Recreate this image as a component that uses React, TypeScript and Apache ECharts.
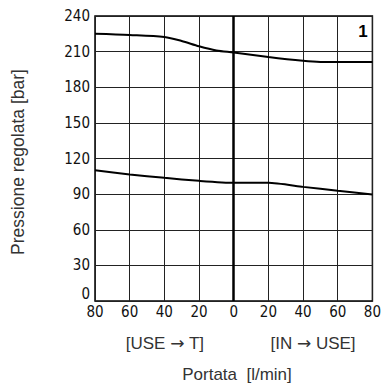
import React, { useEffect, useRef } from "react";
import * as echarts from "echarts";

const xTicks = [-80, -60, -40, -20, 0, 20, 40, 60, 80];
const yTicks = [0, 30, 60, 90, 120, 150, 180, 210, 240];
const upperX = [-80, -60, -40, -30, -20, -10, 0, 20, 40, 50, 60, 80];
const upperY = [225, 224, 222.3, 219, 214.5, 211, 209.3, 205.5, 202.3, 201.3, 201.2, 201.2];
const lowerX = [-80, -60, -40, -20, 0, 20, 40, 60, 80];
const lowerY = [110.2, 106.6, 103.7, 101.2, 99.5, 99.5, 96.1, 92.8, 89.7];
const sideLabels = [["[USE ", " T]"], ["[IN ", " USE]"]];
const arrow = "\u2192";
const xTitle = "Portata  [l/min]";
const yTitle = "Pressione regolata [bar]";
const curveLabel = "1";

const tickFont = "'DejaVu Sans Condensed', 'Liberation Sans Narrow', 'DejaVu Sans', sans-serif";
const textFont = "'Liberation Sans', Arial, sans-serif";

export default function App() {
  const ref = useRef<HTMLDivElement>(null);
  useEffect(() => {
    if (!ref.current) return;
    const chart = echarts.init(ref.current, undefined, { renderer: "svg" });
    const pair = (xs: number[], ys: number[]) => xs.map((x, i) => [x, ys[i]]);
    const sideText = (parts: string[], x: number) => ({
      type: "text",
      x,
      y: 343,
      style: {
        text: `{t|${parts[0]}}{a|${arrow}}{t|${parts[1]}}`,
        align: "center",
        verticalAlign: "middle",
        rich: {
          t: { fontSize: 17, fontFamily: textFont, fill: "#333", color: "#333" },
          a: { fontSize: 17, fontFamily: "'DejaVu Sans', sans-serif", fill: "#333", color: "#333" },
        },
      },
    });
    chart.setOption({
      animation: false,
      grid: {
        left: 95,
        right: 5,
        top: 16,
        bottom: 84,
        show: true,
        borderColor: "#000",
        borderWidth: 1.5,
      },
      xAxis: {
        type: "value",
        min: xTicks[0],
        max: xTicks[xTicks.length - 1],
        interval: 20,
        axisLine: { show: false },
        axisTick: { show: false },
        axisLabel: {
          margin: 3,
          fontSize: 15,
          fontFamily: tickFont,
          color: "#111",
          formatter: (v: number) => String(Math.abs(v)),
        },
        splitLine: { show: true, lineStyle: { color: "#222", width: 1 } },
      },
      yAxis: {
        type: "value",
        min: yTicks[0],
        max: yTicks[yTicks.length - 1],
        interval: 30,
        axisLine: { show: false },
        axisTick: { show: false },
        axisLabel: {
          margin: 5,
          fontSize: 15,
          fontFamily: tickFont,
          color: "#111",
          formatter: (v: number) => (v === 0 ? "{z|0}" : String(v)),
          rich: {
            z: { fontSize: 15, fontFamily: tickFont, color: "#111", padding: [0, 0, 14, 0] },
          },
        },
        splitLine: { show: true, lineStyle: { color: "#222", width: 1 } },
      },
      series: [
        {
          type: "line",
          data: pair(upperX, upperY),
          smooth: 0.3,
          symbol: "none",
          lineStyle: { color: "#000", width: 2 },
          markLine: {
            silent: true,
            symbol: "none",
            label: { show: false },
            lineStyle: { color: "#000", width: 2.5, type: "solid" },
            data: [{ xAxis: 0 }],
          },
        },
        {
          type: "line",
          data: pair(lowerX, lowerY),
          smooth: 0.2,
          symbol: "none",
          lineStyle: { color: "#000", width: 2 },
        },
      ],
      graphic: [
        {
          type: "text",
          x: 363,
          y: 31,
          style: {
            text: curveLabel,
            font: `bold 17px ${textFont}`,
            fill: "#000",
            align: "center",
            verticalAlign: "middle",
          },
        },
        sideText(sideLabels[0], 165),
        sideText(sideLabels[1], 313),
        {
          type: "text",
          x: 237,
          y: 374,
          style: {
            text: xTitle,
            font: `17px ${textFont}`,
            fill: "#333",
            align: "center",
            verticalAlign: "middle",
          },
        },
        {
          type: "text",
          x: 18,
          y: 162,
          rotation: Math.PI / 2,
          style: {
            text: yTitle,
            font: `17.5px ${textFont}`,
            fill: "#333",
            align: "center",
            verticalAlign: "middle",
          },
        },
      ],
    });
    return () => chart.dispose();
  }, []);
  return (
    <div
      ref={ref}
      style={{ position: "fixed", left: 0, top: 0, width: 384, height: 385, background: "#fff" }}
    />
  );
}
